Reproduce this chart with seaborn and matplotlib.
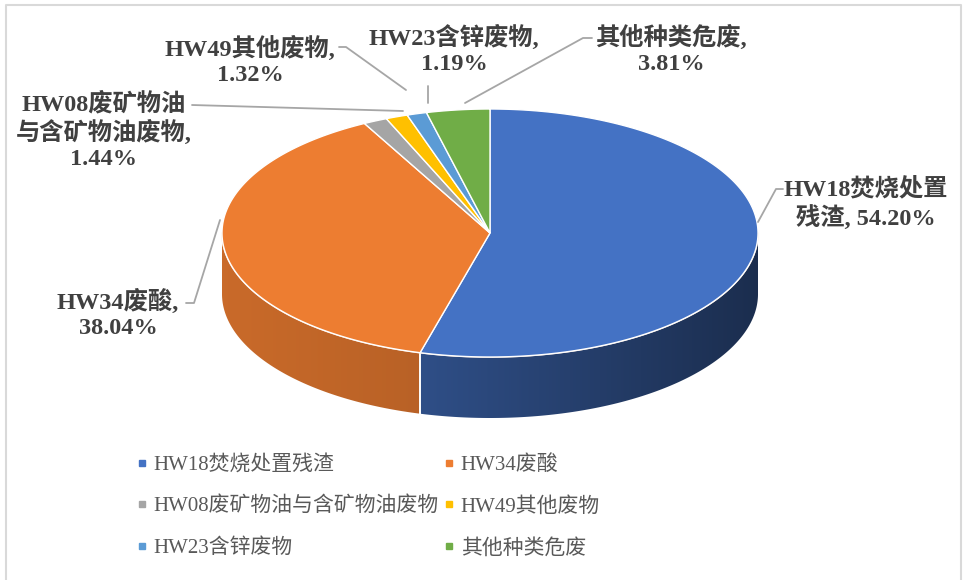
import numpy as np
import matplotlib
matplotlib.use("Agg")
from matplotlib import pyplot as plt
from matplotlib.lines import Line2D
from matplotlib.patches import Polygon
import seaborn as sns

names = ["HW18焚烧处置残渣", "HW34废酸", "HW08废矿物油与含矿物油废物",
         "HW49其他废物", "HW23含锌废物", "其他种类危废"]
shares = [54.20, 38.04, 1.44, 1.32, 1.19, 3.81]
colors_hex = ["#4472C4", "#ED7D31", "#A5A5A5", "#FFC000", "#5B9BD5", "#70AD47"]
label_text = ["HW18焚烧处置\n残渣, 54.20%", "HW34废酸,\n38.04%",
              "HW08废矿物油\n与含矿物油废物,\n1.44%", "HW49其他废物,\n1.32%",
              "HW23含锌废物,\n1.19%", "其他种类危废,\n3.81%"]

sns.set_theme(style="white")
plt.rcParams["font.family"] = ["Liberation Serif", "Noto Sans CJK SC", "DejaVu Sans"]
pal = sns.color_palette(colors_hex)

# pie geometry (pixels)
cx, cy, ra, rb, depth = 490, 233, 268, 124, 61
# side wall shading: factor at left edge, factor at right edge
side_shade = {0: (0.86, 0.40), 1: (0.85, 0.66)}

fig = plt.figure(figsize=(9.63, 5.8), dpi=100)
ax = fig.add_axes([0, 0, 1, 1])
ax.set_xlim(0, 963)
ax.set_ylim(580, 0)
ax.axis("off")

# outer frame
ax.plot([6, 6, 961, 961], [590, 5, 5, 590], color="#d9d9d9", lw=1.5)


def ell(t, dy=0.0):
    t = np.radians(t)
    return cx + ra * np.cos(t), cy - rb * np.sin(t) + dy


frac = np.array(shares) / sum(shares)
cum = np.concatenate([[0], np.cumsum(frac)])
starts = 90 - 360 * cum[:-1]
ends = 90 - 360 * cum[1:]

# side walls (front half only), horizontal gradient clipped to the wall
for i in range(len(shares)):
    lo_f, hi_f = max(ends[i], -180), min(starts[i], 0)
    if lo_f >= hi_f:
        continue
    tt = np.linspace(lo_f, hi_f, 200)
    x1, y1 = ell(tt)
    x2, y2 = ell(tt[::-1], depth)
    poly = Polygon(np.c_[np.r_[x1, x2], np.r_[y1, y2]], closed=True,
                   fc="none", ec="none")
    ax.add_patch(poly)
    f0, f1 = side_shade.get(i, (0.8, 0.6))
    xs = np.linspace(cx - ra, cx + ra, 400)
    u = (xs - (cx - ra)) / (2 * ra)
    f = f0 + (f1 - f0) * u
    img = np.clip(np.array(pal[i])[None, None, :] * f[None, :, None], 0, 1)
    im = ax.imshow(img, extent=(cx - ra, cx + ra, cy + rb + depth + 5, cy - rb),
                   aspect="auto", interpolation="bilinear", zorder=1)
    im.set_clip_path(poly)
    for a in (lo_f, hi_f):
        if a not in (-180, 0):
            x, y = ell(a)
            ax.plot([x, x], [y, y + depth], color="white", lw=1.2, zorder=2)
ax.set_xlim(0, 963)
ax.set_ylim(580, 0)

# front rim highlight
tt = np.linspace(-180, 0, 200)
xr, yr = ell(tt)
ax.plot(xr, yr, color="#fbe5d6", lw=1.2, zorder=2)

# top surface
for i in range(len(shares)):
    tt = np.linspace(ends[i], starts[i], 200)
    x, y = ell(tt)
    ax.fill(np.r_[cx, x, cx], np.r_[cy, y, cy], color=pal[i], ec="white",
            lw=1.0, zorder=3)

# data labels with leader lines
lab_pos = [(866, 203), (118, 314), (104, 131), (250, 61), (454, 50), (671, 50)]
leaders = [
    ([783, 776, 758], [189, 189, 222]),
    ([186, 194, 220], [303, 303, 220]),
    ([192, 403], [105, 111]),
    ([339, 346, 406], [47, 47, 90]),
    ([428, 428], [86, 103]),
    ([592, 583, 465], [38, 38, 103]),
]
for i in range(len(shares)):
    lx, ly = leaders[i]
    ax.plot(lx, ly, color="#a6a6a6", lw=1.3, zorder=4)
    ax.text(lab_pos[i][0], lab_pos[i][1], label_text[i], ha="center", va="center",
            fontsize=17.5, fontweight="bold", color="#404040", linespacing=1.22,
            zorder=5)

# legend, row-major order
order = [0, 2, 4, 1, 3, 5]
handles = [Line2D([], [], ls="", marker="s", ms=5, color=pal[i]) for i in order]
ax.legend(handles, [names[i] for i in order], ncol=2, frameon=False,
          loc="upper left", bbox_to_anchor=(136, 455), bbox_transform=ax.transData,
          fontsize=15, labelcolor="#595959", handlelength=0.6, handletextpad=0.25,
          columnspacing=0.2, labelspacing=1.05, borderpad=0, borderaxespad=0)

fig.savefig("out.png", dpi=100, facecolor="white")
